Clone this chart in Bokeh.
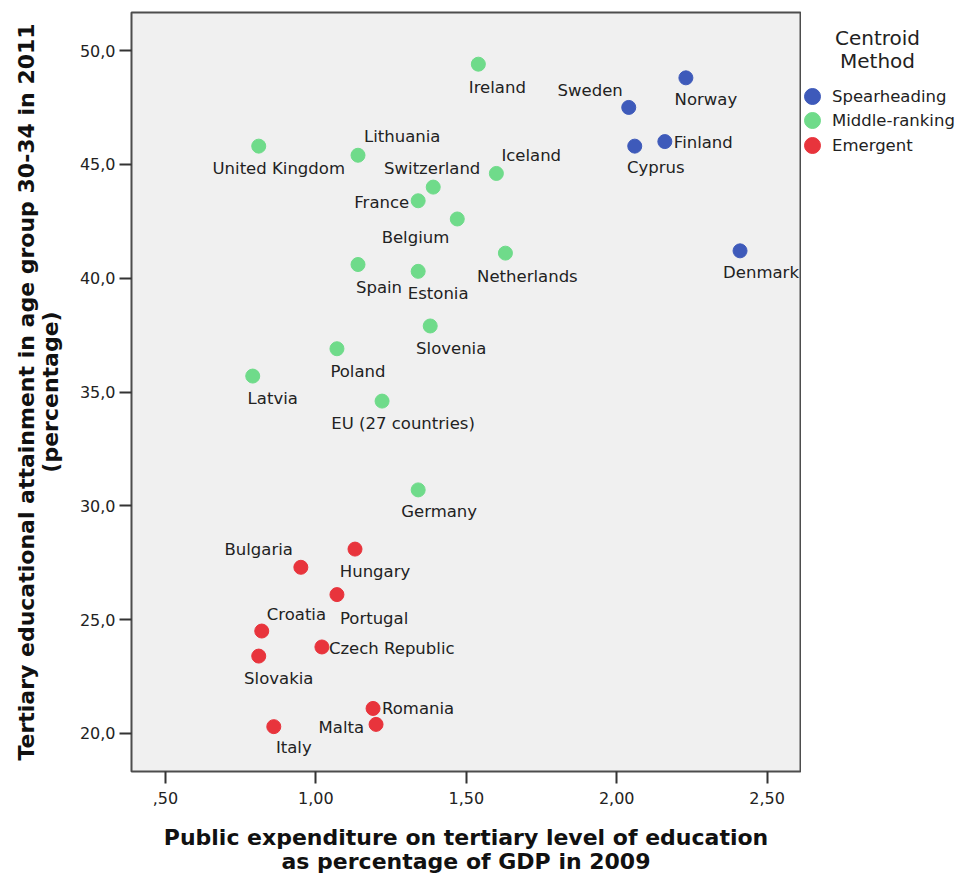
from bokeh.plotting import figure
from bokeh.layouts import row
from bokeh.models import ColumnDataSource, FixedTicker, Legend, LegendItem, Label, Range1d
from bokeh.core.properties import value
from bokeh.embed import file_html
from bokeh.resources import INLINE

# ---- data ----
countries = ["Sweden", "Norway", "Finland", "Cyprus", "Denmark",
             "Ireland", "United Kingdom", "Lithuania", "Iceland", "Switzerland",
             "France", "Belgium", "Netherlands", "Spain", "Estonia", "Slovenia",
             "Poland", "Latvia", "EU (27 countries)", "Germany",
             "Hungary", "Bulgaria", "Portugal", "Croatia", "Czech Republic",
             "Slovakia", "Romania", "Malta", "Italy"]
spending = [2.04, 2.23, 2.16, 2.06, 2.41,
            1.54, 0.81, 1.14, 1.60, 1.39,
            1.34, 1.47, 1.63, 1.14, 1.34, 1.38,
            1.07, 0.79, 1.22, 1.34,
            1.13, 0.95, 1.07, 0.82, 1.02,
            0.81, 1.19, 1.20, 0.86]
attainment = [47.5, 48.8, 46.0, 45.8, 41.2,
              49.4, 45.8, 45.4, 44.6, 44.0,
              43.4, 42.6, 41.1, 40.6, 40.3, 37.9,
              36.9, 35.7, 34.6, 30.7,
              28.1, 27.3, 26.1, 24.5, 23.8,
              23.4, 21.1, 20.4, 20.3]
method = ["Spearheading"] * 5 + ["Middle-ranking"] * 15 + ["Emergent"] * 9

groups = ["Spearheading", "Middle-ranking", "Emergent"]
group_colors = ["#3e5aba", "#6fdb8a", "#e8343c"]
legend_title_lines = ["Centroid", "Method"]

x_ticks = [0.5, 1.0, 1.5, 2.0, 2.5]
x_tick_labels = [",50", "1,00", "1,50", "2,00", "2,50"]
y_ticks = [20, 25, 30, 35, 40, 45, 50]
y_tick_labels = ["20,0", "25,0", "30,0", "35,0", "40,0", "45,0", "50,0"]

# ---- label placement styles (screen px, y downwards) ----
label_align = ["right", "center", "left", "center", "center",
               "center", "center", "left", "left", "center",
               "right", "right", "center", "center", "center", "center",
               "center", "center", "center", "center",
               "center", "right", "left", "left", "left",
               "center", "left", "right", "center"]
label_dx = [-6, 20, 9, 21, 21,
            19, 20, 6, 5, -1,
            -9, -8, 22, 21, 20, 21,
            21, 20, 21, 21,
            20, -8, 3, 5, 7,
            20, 9, -12, 20]
label_dy = [-17, 22, 1, 21, 22,
            23, 22, -19, -18, -19,
            2, 19, 23, 23, 22, 23,
            23, 22, 22, 22,
            22, -18, 24, -17, 2,
            22, 0, 3, 21]

FONT = "DejaVu Sans"
TXT = "#222222"
H = 879

p = figure(width=801, height=H, output_backend="svg", toolbar_location=None,
           x_range=Range1d(0.387, 2.611), y_range=Range1d(18.33, 51.67),
           min_border_left=131, min_border_right=1, min_border_top=12,
           min_border_bottom=108,
           background_fill_color="#f0f0f0", border_fill_color="white",
           outline_line_color="#4d4d4d", outline_line_width=2)
p.grid.visible = False

for ax in (p.xaxis[0], p.yaxis[0]):
    ax.axis_line_color = None
    ax.major_tick_in = 0
    ax.major_tick_out = 12
    ax.major_tick_line_width = 2
    ax.major_tick_line_color = "#333333"
    ax.minor_tick_line_color = None
    ax.major_label_text_font = FONT
    ax.major_label_text_font_size = "16px"
    ax.major_label_text_color = TXT
    ax.axis_label_text_font = FONT
    ax.axis_label_text_font_style = "bold"
    ax.axis_label_text_font_size = "22px"
    ax.axis_label_text_color = "#111111"
    ax.axis_label_text_line_height = 0.97

p.xaxis[0].ticker = FixedTicker(ticks=x_ticks)
p.xaxis[0].major_label_overrides = {t: l for t, l in zip(x_ticks, x_tick_labels)}
p.xaxis[0].major_label_standoff = 8
p.xaxis[0].axis_label = "Public expenditure on tertiary level of education\nas percentage of GDP in 2009"
p.xaxis[0].axis_label_standoff = 18

p.yaxis[0].ticker = FixedTicker(ticks=y_ticks)
p.yaxis[0].major_label_overrides = {t: l for t, l in zip(y_ticks, y_tick_labels)}
p.yaxis[0].major_label_standoff = 4
p.yaxis[0].axis_label = "Tertiary educational attainment in age group 30-34 in 2011\n(percentage)"
p.yaxis[0].axis_label_standoff = 14

sources = []
for g, c in zip(groups, group_colors):
    idx = [i for i, m in enumerate(method) if m == g]
    src = ColumnDataSource(dict(x=[spending[i] for i in idx],
                                y=[attainment[i] for i in idx]))
    p.scatter("x", "y", source=src, size=14, fill_color=c, line_color=c)
    sources.append(src)

lsrc = ColumnDataSource(dict(x=spending, y=attainment, name=countries,
                             dx=label_dx, dy=label_dy, align=label_align))
p.text(x="x", y="y", text="name", x_offset="dx", y_offset="dy",
       text_align="align", text_baseline="middle", source=lsrc,
       text_font=value(FONT), text_font_size="16.5px", text_color=TXT)

# ---- legend panel (narrow figure to the right; its own ranges keep the points out of view) ----
q = figure(width=157, height=H, output_backend="svg", toolbar_location=None,
           x_axis_type=None, y_axis_type=None, x_range=Range1d(0, 1), y_range=Range1d(0, 1),
           min_border=0, outline_line_color=None,
           background_fill_color="white", border_fill_color="white")
q.grid.visible = False
leg_renderers = [q.scatter("x", "y", source=s, size=14, fill_color=c, line_color=c)
                 for s, c in zip(sources, group_colors)]
# one single-item legend per group so that the large markers can sit 24-25 px apart
for g, r, vy in zip(groups, leg_renderers, (655, 631, 606)):
    q.add_layout(Legend(items=[LegendItem(label=g, renderers=[r])],
                        location=(-9, vy), glyph_width=40, glyph_height=40,
                        padding=0, margin=0, border_line_color=None, background_fill_alpha=0,
                        label_standoff=0, label_text_font=FONT, label_text_font_size="16.5px",
                        label_text_color=TXT))
for txt, yy in zip(legend_title_lines, (734, 711)):
    q.add_layout(Label(x=76, y=yy, x_units="screen", y_units="screen", text=txt,
                       text_align="center", text_baseline="middle",
                       text_font=FONT, text_font_size="20px", text_color=TXT))

open("out.html", "w").write(file_html(row(p, q), INLINE))
